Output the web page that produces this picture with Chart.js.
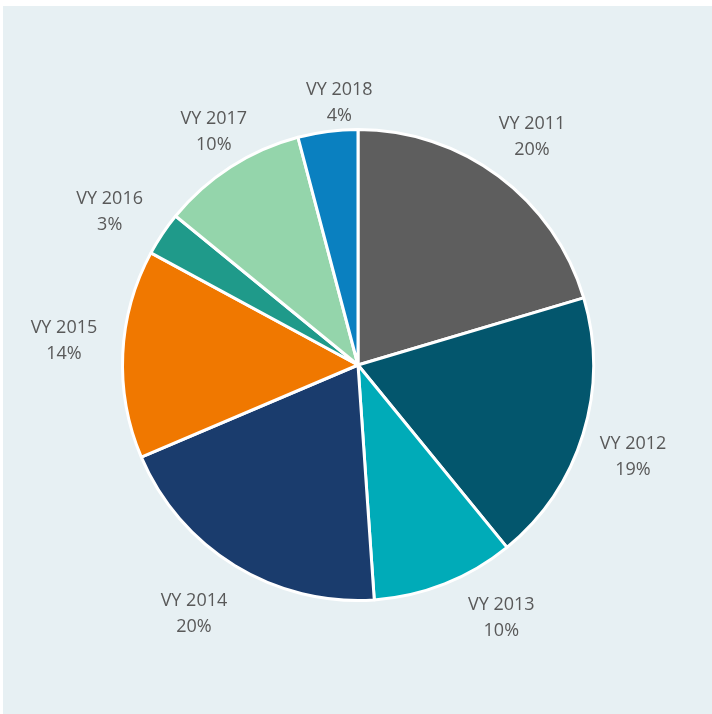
<!DOCTYPE html>
<html>
<head>
<meta charset="utf-8">
<script src="https://cdn.jsdelivr.net/npm/chart.js@4/dist/chart.umd.min.js"></script>
<style>
  html, body { margin: 0; padding: 0; background: #ffffff; }
  #bg { position: absolute; left: 3px; top: 6px; width: 709px; height: 708px; background: #e7f0f3; }
  #wrap { position: absolute; left: 0; top: 0; width: 712px; height: 714px; }
</style>
</head>
<body>
<div id="bg"></div>
<div id="wrap"><canvas id="c" width="712" height="714"></canvas></div>
<script>
const categories = ["VY 2011", "VY 2012", "VY 2013", "VY 2014", "VY 2015", "VY 2016", "VY 2017", "VY 2018"];
const shares = [20.4, 18.7, 9.8, 19.7, 14.3, 3.0, 10.0, 4.1];
const sliceColors = ["#5e5e5e", "#03566d", "#00abb8", "#1a3c6d", "#f07800", "#1f9a8a", "#94d5ab", "#0a80c0"];

// label placement (layout only): angular shift from slice middle (deg) and distance from centre (px)
const labelShift = [0.6, 1.4, -7.9, 1.9, 1.9, -2.1, 1.0, 3.3];
const labelDist = [287, 290, 291, 298, 295, 292, 274, 263];

const outsideLabels = {
  id: 'outsideLabels',
  afterDatasetsDraw(chart) {
    const ctx = chart.ctx;
    const meta = chart.getDatasetMeta(0);
    const data = chart.data.datasets[0].data;
    const total = data.reduce((a, b) => a + b, 0);
    ctx.save();
    ctx.fillStyle = '#595959';
    ctx.font = '18px "Open Sans", "Liberation Sans", sans-serif';
    ctx.textAlign = 'center';
    ctx.textBaseline = 'middle';
    meta.data.forEach((arc, i) => {
      const mid = (arc.startAngle + arc.endAngle) / 2 + labelShift[i] * Math.PI / 180;
      const d = labelDist[i];
      const x = arc.x + Math.cos(mid) * d;
      const y = arc.y + Math.sin(mid) * d;
      const pct = Math.round(data[i] / total * 100) + '%';
      ctx.fillText(chart.data.labels[i], x, y - 13);
      ctx.fillText(pct, x, y + 13);
    });
    ctx.restore();
  }
};

new Chart(document.getElementById('c'), {
  type: 'pie',
  data: {
    labels: categories,
    datasets: [{
      data: shares,
      backgroundColor: sliceColors,
      borderColor: '#ffffff',
      borderWidth: 3
    }]
  },
  options: {
    responsive: false,
    animation: false,
    layout: { padding: { left: 121, right: 117, top: 128, bottom: 112 } },
    plugins: {
      legend: { display: false },
      tooltip: { enabled: false }
    }
  },
  plugins: [outsideLabels]
});
</script>
</body>
</html>
